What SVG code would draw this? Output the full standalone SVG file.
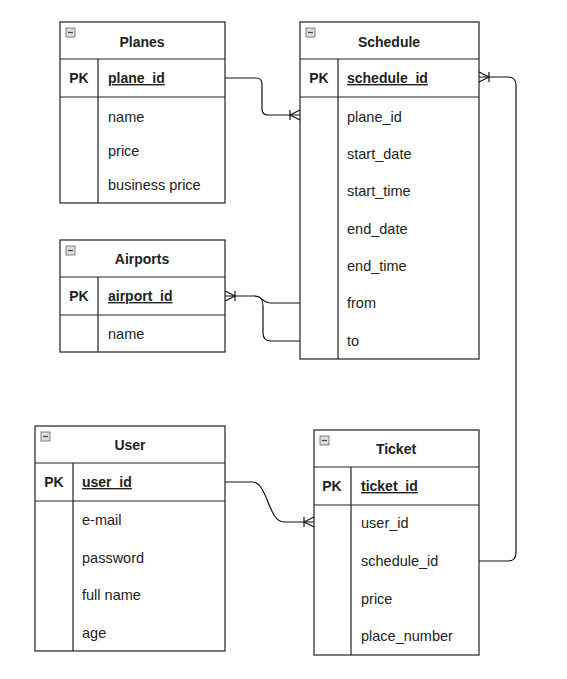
<svg xmlns="http://www.w3.org/2000/svg" width="567" height="679" viewBox="0 0 567 679">
<defs>
<style>
.box{fill:#fff;stroke:#222;stroke-width:1.2}
.ln{fill:none;stroke:#222;stroke-width:1.2}
.t{font-family:"Liberation Sans",Arial,sans-serif;font-size:14px;fill:#222}
.f{font-size:14.5px}
.title{font-weight:bold;text-anchor:middle}
.pk{font-weight:bold;text-anchor:middle}
.key{font-weight:bold;text-decoration:underline}
.ic{fill:#ddd;stroke:#777;stroke-width:0.9}
.conn{fill:none;stroke:#111;stroke-width:1.2}
</style>
<g id="icon"><rect class="ic" x="0" y="0" width="9" height="9"/><line x1="2" y1="4.5" x2="7" y2="4.5" stroke="#444" stroke-width="1.2"/></g>
</defs>
<rect width="567" height="679" fill="#fff"/>

<g id="planes">
<rect class="box" x="60" y="22" width="165" height="181"/>
<line class="ln" x1="60" y1="59" x2="225" y2="59"/>
<line class="ln" x1="60" y1="97" x2="225" y2="97"/>
<line class="ln" x1="98" y1="59" x2="98" y2="203"/>
<use href="#icon" x="66" y="28"/>
<text class="t title" x="142" y="47">Planes</text>
<text class="t pk" x="79" y="83">PK</text>
<text class="t key" x="108" y="83">plane_id</text>
<text class="t f" x="108" y="122">name</text>
<text class="t f" x="108" y="156">price</text>
<text class="t f" x="108" y="190">business price</text>
</g>

<g id="schedule">
<rect class="box" x="300" y="22" width="179" height="337"/>
<line class="ln" x1="300" y1="59" x2="479" y2="59"/>
<line class="ln" x1="300" y1="97" x2="479" y2="97"/>
<line class="ln" x1="338" y1="59" x2="338" y2="359"/>
<use href="#icon" x="306" y="28"/>
<text class="t title" x="389" y="47">Schedule</text>
<text class="t pk" x="319" y="83">PK</text>
<text class="t key" x="347" y="83">schedule_id</text>
<text class="t f" x="347" y="122">plane_id</text>
<text class="t f" x="347" y="159">start_date</text>
<text class="t f" x="347" y="196">start_time</text>
<text class="t f" x="347" y="234">end_date</text>
<text class="t f" x="347" y="271">end_time</text>
<text class="t f" x="347" y="308">from</text>
<text class="t f" x="347" y="346">to</text>
</g>

<g id="airports">
<rect class="box" x="60" y="240" width="165" height="112"/>
<line class="ln" x1="60" y1="277" x2="225" y2="277"/>
<line class="ln" x1="60" y1="315" x2="225" y2="315"/>
<line class="ln" x1="98" y1="277" x2="98" y2="352"/>
<use href="#icon" x="66" y="246"/>
<text class="t title" x="142" y="264">Airports</text>
<text class="t pk" x="79" y="301">PK</text>
<text class="t key" x="108" y="301">airport_id</text>
<text class="t f" x="108" y="339">name</text>
</g>

<g id="user">
<rect class="box" x="35" y="426" width="190" height="225"/>
<line class="ln" x1="35" y1="463" x2="225" y2="463"/>
<line class="ln" x1="35" y1="501" x2="225" y2="501"/>
<line class="ln" x1="73" y1="463" x2="73" y2="651"/>
<use href="#icon" x="41" y="432"/>
<text class="t title" x="130" y="450">User</text>
<text class="t pk" x="54" y="487">PK</text>
<text class="t key" x="82" y="487">user_id</text>
<text class="t f" x="82" y="525">e-mail</text>
<text class="t f" x="82" y="563">password</text>
<text class="t f" x="82" y="600">full name</text>
<text class="t f" x="82" y="638">age</text>
</g>

<g id="ticket">
<rect class="box" x="314" y="430" width="165" height="225"/>
<line class="ln" x1="314" y1="467" x2="479" y2="467"/>
<line class="ln" x1="314" y1="505" x2="479" y2="505"/>
<line class="ln" x1="351" y1="467" x2="351" y2="655"/>
<use href="#icon" x="320" y="436"/>
<text class="t title" x="396" y="454">Ticket</text>
<text class="t pk" x="332" y="491">PK</text>
<text class="t key" x="361" y="491">ticket_id</text>
<text class="t f" x="361" y="528">user_id</text>
<text class="t f" x="361" y="566">schedule_id</text>
<text class="t f" x="361" y="604">price</text>
<text class="t f" x="361" y="641">place_number</text>
</g>

<g id="connectors">
<path class="conn" d="M225,78 L256,78 Q262,78 262,84 L262,109 Q262,115 268,115 L300,115"/>
<path class="conn" d="M290,110 L290,120 M290,115 L300,110 M290,115 L300,120"/>
<path class="conn" d="M225,296 L255,296 C262,296 262,303 271,303 L300,303"/>
<path class="conn" d="M255,296 C261,296 263,299 263,306 L263,333 Q263,341 271,341 L300,341"/>
<path class="conn" d="M235,291 L235,301 M235,296 L225,291 M235,296 L225,301"/>
<path class="conn" d="M479,77 L508,77 Q516,77 516,85 L516,553 Q516,561 508,561 L479,561"/>
<path class="conn" d="M489,72 L489,82 M489,77 L479,72 M489,77 L479,82"/>
<path class="conn" d="M225,482 L252,482 C268,482 268,522 284,522 L314,522"/>
<path class="conn" d="M304,517 L304,527 M304,522 L314,517 M304,522 L314,527"/>
</g>
</svg>
